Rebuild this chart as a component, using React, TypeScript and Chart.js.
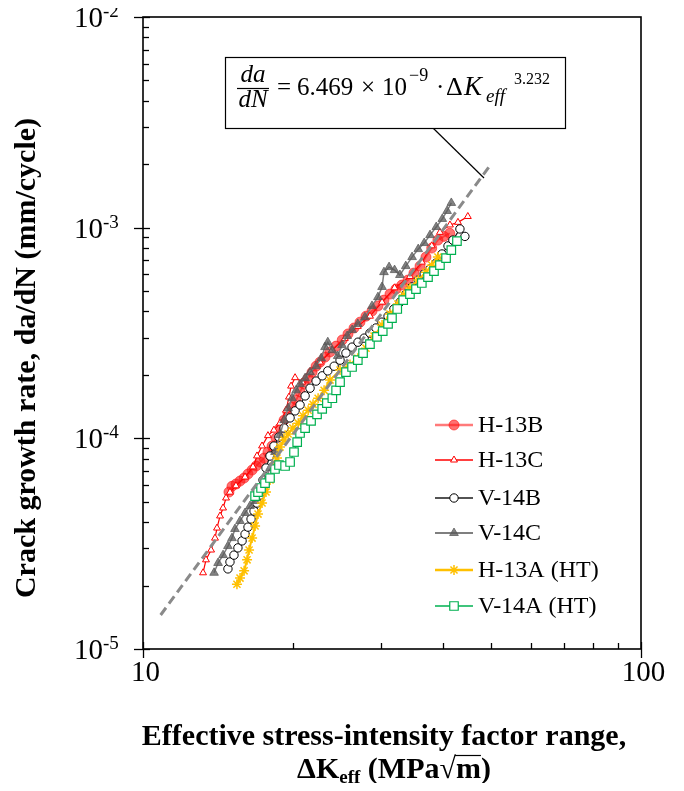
import React, { useEffect, useRef } from "react";
import { Chart, registerables } from "chart.js";
Chart.register(...registerables);

// ---------- data (ΔKeff in MPa√m, da/dN in mm/cycle) ----------
const h13bK = [14.88,15.09,15.37,15.66,15.96,16.25,16.56,16.87,17.18,17.5,17.82,18.16,18.5,18.84,19.2,19.56,19.92,20.3,20.67,21.06,21.46,21.85,22.26,22.67,23.2,23.74,24.42,25.12,25.8,26.53,27.27,28.04,28.83,29.63,30.47,31.33,32.2,33.1,34.05,35.0,36.0,37.0,38.0,39.1,40.2,41.3];
const h13bRate = [5.56e-5,5.92e-5,6.07e-5,6.27e-5,6.48e-5,6.77e-5,7.07e-5,7.39e-5,7.72e-5,8.06e-5,8.61e-5,9.19e-5,1.003e-4,1.119e-4,1.22e-4,1.318e-4,1.408e-4,1.52e-4,1.66e-4,1.81e-4,1.93e-4,2.06e-4,2.2e-4,2.3e-4,2.43e-4,2.57e-4,2.74e-4,2.93e-4,3.13e-4,3.34e-4,3.56e-4,3.8e-4,4.02e-4,4.25e-4,4.53e-4,4.84e-4,5.11e-4,5.34e-4,5.64e-4,6.09e-4,6.57e-4,7.25e-4,8.0e-4,8.73e-4,9.09e-4,9.4e-4];

const h13cK = [13.2,13.38,13.7,13.95,14.08,14.28,14.48,14.68,14.95,15.37,16.03,16.63,16.94,17.34,17.82,18.32,18.84,19.37,19.64,19.83,20.2,20.87,21.65,22.67,23.96,25.43,27.0,28.56,30.2,32.0,34.36,36.3,38.0,39.47,41.34,42.9,44.9];
const h13cRate = [2.3e-5,2.65e-5,2.95e-5,3.36e-5,3.75e-5,4.28e-5,4.67e-5,5.21e-5,5.55e-5,5.95e-5,6.55e-5,7.32e-5,8.25e-5,9.2e-5,1.03e-4,1.094e-4,1.18e-4,1.36e-4,1.57e-4,1.77e-4,1.94e-4,1.85e-4,2.06e-4,2.3e-4,2.62e-4,2.98e-4,3.4e-4,3.8e-4,4.43e-4,5.18e-4,5.86e-4,6.86e-4,8.2e-4,9.5e-4,1.03e-3,1.06e-3,1.13e-3];

const v14bK = [14.81,14.95,15.23,15.51,15.81,16.03,16.25,16.48,16.71,16.94,17.18,17.42,17.66,17.99,18.32,18.75,19.2,19.74,20.2,20.67,21.16,21.65,22.26,22.9,23.5,24.2,24.87,25.56,26.29,27.02,27.8,28.56,29.36,30.18,31.05,31.9,32.81,33.74,34.7,35.7,36.7,37.69,38.76,39.85,40.97,41.9,43.29,44.3];
const v14bRate = [2.4e-5,2.59e-5,2.79e-5,3.02e-5,3.26e-5,3.51e-5,3.79e-5,4.14e-5,4.52e-5,4.93e-5,5.38e-5,6.34e-5,7.23e-5,8.24e-5,9.19e-5,1.014e-4,1.119e-4,1.25e-4,1.35e-4,1.44e-4,1.59e-4,1.73e-4,1.87e-4,1.98e-4,2.09e-4,2.2e-4,2.35e-4,2.54e-4,2.71e-4,2.86e-4,2.99e-4,3.16e-4,3.34e-4,3.56e-4,3.8e-4,4.11e-4,4.43e-4,4.84e-4,5.23e-4,5.64e-4,6.03e-4,6.36e-4,6.79e-4,7.5e-4,8.19e-4,8.73e-4,9.86e-4,9.09e-4];

const v14cK = [13.89,14.15,14.48,14.81,15.09,15.3,15.66,16.03,16.4,16.79,17.18,17.58,17.99,18.41,18.84,19.2,19.56,19.92,20.3,20.67,21.16,21.65,22.26,22.79,23.2,23.5,24.0,24.6,25.1,25.7,26.3,27.0,27.9,28.83,29.63,30.2,30.47,31.2,32.0,32.8,33.7,34.7,35.7,36.7,37.7,38.8,39.9,40.8,41.6];
const v14cRate = [2.3e-5,2.56e-5,2.79e-5,3.08e-5,3.36e-5,3.71e-5,4.05e-5,4.42e-5,4.77e-5,5.04e-5,5.5e-5,6.2e-5,7.23e-5,8.61e-5,1.037e-4,1.22e-4,1.39e-4,1.55e-4,1.69e-4,1.81e-4,1.93e-4,2.06e-4,2.2e-4,2.4e-4,2.71e-4,2.86e-4,2.62e-4,2.46e-4,2.77e-4,3.06e-4,3.27e-4,3.49e-4,3.76e-4,4.25e-4,4.68e-4,5.23e-4,6.15e-4,6.5e-4,6.29e-4,5.96e-4,6.57e-4,7.25e-4,7.91e-4,8.45e-4,9.22e-4,1.007e-3,1.1e-3,1.2e-3,1.31e-3];

const h13aK = [15.44,15.66,15.96,16.18,16.33,16.56,16.79,17.02,17.34,17.66,17.99,18.32,18.58,18.84,19.2,19.56,20.0,20.5,20.96,21.46,21.95,22.47,23.1,23.74,24.87,26.04,27.0,28.04,29.1,30.2,31.33,32.5,33.4,34.36,35.7,37.0,38.0,39.1];
const h13aRate = [2.03e-5,2.17e-5,2.35e-5,2.65e-5,2.95e-5,3.36e-5,3.84e-5,4.37e-5,4.93e-5,5.56e-5,6.34e-5,7.39e-5,8.06e-5,9.09e-5,9.82e-5,1.048e-4,1.119e-4,1.18e-4,1.28e-4,1.36e-4,1.45e-4,1.55e-4,1.69e-4,1.89e-4,2.11e-4,2.24e-4,2.4e-4,2.68e-4,3.06e-4,3.45e-4,3.89e-4,4.34e-4,4.79e-4,5.17e-4,5.64e-4,6.15e-4,6.64e-4,7.25e-4];

const v14aK = [16.79,17.02,17.26,17.58,17.99,18.41,18.75,19.29,19.74,20.1,20.4,20.67,21.16,21.75,22.36,22.9,23.4,24.0,24.42,24.87,25.56,26.29,27.0,27.66,28.56,29.5,30.3,31.05,31.62,32.4,33.3,34.36,35.33,36.3,37.35,38.4,39.47,40.6,41.6,42.7];
const v14aRate = [5.32e-5,5.56e-5,5.81e-5,6.13e-5,6.48e-5,7.15e-5,7.47e-5,7.39e-5,7.72e-5,8.61e-5,9.6e-5,1.06e-4,1.119e-4,1.21e-4,1.3e-4,1.38e-4,1.47e-4,1.55e-4,1.69e-4,1.85e-4,2.06e-4,2.18e-4,2.35e-4,2.54e-4,2.8e-4,3.03e-4,3.23e-4,3.49e-4,3.72e-4,4.11e-4,4.53e-4,4.84e-4,5.11e-4,5.46e-4,5.83e-4,6.22e-4,6.64e-4,7.17e-4,7.83e-4,8.64e-4];

// regression line endpoints: da/dN = 6.469e-9 * ΔKeff^3.232
const fitK = [10.85, 49.8];
const fitRate = [1.45e-5, 1.98e-3];

const seriesNames = ["H-13B", "H-13C", "V-14B", "V-14C", "H-13A (HT)", "V-14A (HT)"];
const xTickValues = [10, 100];
const yTickExponents = [-5, -4, -3, -2];

const SERIF = '"Liberation Serif", "Times New Roman", serif';

type Sty = { point: string; r: number; fill: string; stroke: string; lw: number; line: string; lineW: number };
const styles: Sty[] = [
  { point: "circle", r: 5, fill: "rgba(255,20,20,0.6)", stroke: "rgba(255,20,20,0.6)", lw: 1, line: "rgba(255,50,50,0.65)", lineW: 1.8 },
  { point: "triangle", r: 4, fill: "#ffffff", stroke: "#ff0000", lw: 1, line: "#ff0000", lineW: 1.2 },
  { point: "circle", r: 4.2, fill: "#ffffff", stroke: "#000000", lw: 1, line: "#1a1a1a", lineW: 1.2 },
  { point: "triangle", r: 5, fill: "rgba(90,90,90,0.75)", stroke: "rgba(90,90,90,0.75)", lw: 1, line: "#7f7f7f", lineW: 1.5 },
  { point: "star", r: 5, fill: "#ffc000", stroke: "#ffc000", lw: 1.5, line: "#ffc000", lineW: 2 },
  { point: "rect", r: 6, fill: "#ffffff", stroke: "#00b050", lw: 1.2, line: "#00b050", lineW: 1.2 },
];

function drawMarker(ctx: CanvasRenderingContext2D, s: Sty, x: number, y: number) {
  ctx.save();
  ctx.beginPath();
  ctx.lineWidth = s.lw;
  ctx.fillStyle = s.fill;
  ctx.strokeStyle = s.stroke;
  const r = s.r;
  if (s.point === "circle") ctx.arc(x, y, r, 0, Math.PI * 2);
  else if (s.point === "triangle") {
    ctx.moveTo(x, y - r);
    ctx.lineTo(x + r * 0.866, y + r * 0.5);
    ctx.lineTo(x - r * 0.866, y + r * 0.5);
    ctx.closePath();
  } else if (s.point === "rect") {
    const h = r * Math.SQRT1_2;
    ctx.rect(x - h, y - h, 2 * h, 2 * h);
  } else if (s.point === "star") {
    for (let i = 0; i < 4; i++) {
      const a = (i * Math.PI) / 4;
      ctx.moveTo(x + Math.cos(a) * r, y + Math.sin(a) * r);
      ctx.lineTo(x - Math.cos(a) * r, y - Math.sin(a) * r);
    }
  }
  if (s.point !== "star") ctx.fill();
  ctx.stroke();
  ctx.restore();
}

const overlayPlugin = {
  id: "overlay",
  afterDraw(chart: any) {
    const ctx: CanvasRenderingContext2D = chart.ctx;
    const { left, right, top, bottom } = chart.chartArea;
    const xs = chart.scales.x;
    const ys = chart.scales.y;
    ctx.save();
    ctx.strokeStyle = "#000";
    ctx.fillStyle = "#000";

    // y ticks
    ctx.lineWidth = 1.3;
    for (const e of yTickExponents) {
      const y = Math.round(ys.getPixelForValue(Math.pow(10, e))) + 0.5;
      ctx.beginPath();
      ctx.moveTo(left - 9, y);
      ctx.lineTo(left + 7, y);
      ctx.stroke();
      if (e < yTickExponents[yTickExponents.length - 1]) {
        for (let m = 2; m <= 9; m++) {
          const yy = Math.round(ys.getPixelForValue(m * Math.pow(10, e))) + 0.5;
          ctx.beginPath();
          ctx.moveTo(left, yy);
          ctx.lineTo(left + 6, yy);
          ctx.stroke();
        }
      }
      // labels 10^e
      ctx.font = `29px ${SERIF}`;
      ctx.textAlign = "right";
      ctx.textBaseline = "middle";
      ctx.fillText("10", left - 40, y + 2);
      ctx.font = `19px ${SERIF}`;
      ctx.textAlign = "left";
      ctx.textBaseline = "alphabetic";
      ctx.fillText(String(e), left - 40, y - 1);
    }
    // x ticks
    for (let i = 0; i < xTickValues.length; i++) {
      const v = xTickValues[i];
      const x = Math.round(xs.getPixelForValue(v)) + 0.5;
      ctx.beginPath();
      ctx.moveTo(x, bottom + 9);
      ctx.lineTo(x, bottom - 7);
      ctx.stroke();
      if (i < xTickValues.length - 1) {
        for (let m = 2; m <= 9; m++) {
          const xx = Math.round(xs.getPixelForValue(m * v)) + 0.5;
          ctx.beginPath();
          ctx.moveTo(xx, bottom);
          ctx.lineTo(xx, bottom - 6);
          ctx.stroke();
        }
      }
      ctx.font = `29px ${SERIF}`;
      ctx.textAlign = "center";
      ctx.textBaseline = "middle";
      ctx.fillText(String(v), x + 2, bottom + 24);
    }

    // frame
    ctx.lineWidth = 1.6;
    ctx.strokeRect(left, top, right - left, bottom - top);

    // y title
    ctx.save();
    ctx.translate(19, 350);
    ctx.rotate(-Math.PI / 2);
    ctx.font = `bold 30px ${SERIF}`;
    ctx.textAlign = "center";
    ctx.textBaseline = "middle";
    ctx.fillText("Crack growth rate, da/dN (mm/cycle)", 0, 0);
    ctx.restore();

    // x title
    ctx.font = `bold 30px ${SERIF}`;
    ctx.textAlign = "center";
    ctx.textBaseline = "middle";
    ctx.fillText("Effective stress-intensity factor range,", 376, 729);
    {
      const p1 = "ΔK";
      const p2 = "eff";
      const p3a = " (MPa√";
      const p3b = "m)";
      ctx.font = `bold 30px ${SERIF}`;
      const w1 = ctx.measureText(p1).width;
      const w3a = ctx.measureText(p3a).width;
      const wm = ctx.measureText("m").width;
      const w3b = ctx.measureText(p3b).width;
      ctx.font = `bold 19px ${SERIF}`;
      const w2 = ctx.measureText(p2).width;
      const total = w1 + w2 + w3a + w3b;
      let x0 = 386 - total / 2;
      const base = 770;
      ctx.textAlign = "left";
      ctx.textBaseline = "alphabetic";
      ctx.font = `bold 30px ${SERIF}`;
      ctx.fillText(p1, x0, base);
      x0 += w1;
      ctx.font = `bold 19px ${SERIF}`;
      ctx.fillText(p2, x0, base + 5);
      x0 += w2;
      ctx.font = `bold 30px ${SERIF}`;
      ctx.fillText(p3a, x0, base);
      x0 += w3a;
      ctx.fillText(p3b, x0, base);
      ctx.lineWidth = 1.2;
      ctx.beginPath();
      ctx.moveTo(x0 - 1, base - 22.5);
      ctx.lineTo(x0 + wm, base - 22.5);
      ctx.stroke();
    }

    // equation box and leader
    ctx.lineWidth = 1.2;
    ctx.beginPath();
    ctx.moveTo(425, 120);
    ctx.lineTo(476, 170);
    ctx.stroke();
    ctx.fillStyle = "#fff";
    ctx.fillRect(217, 49, 340, 71);
    ctx.strokeRect(217.5, 49.5, 340, 71);
    ctx.fillStyle = "#000";
    ctx.textAlign = "center";
    ctx.textBaseline = "alphabetic";
    ctx.font = `italic 25px ${SERIF}`;
    ctx.fillText("da", 245, 74);
    ctx.fillText("dN", 245, 99);
    ctx.beginPath();
    ctx.lineWidth = 1.2;
    ctx.moveTo(229, 80.5);
    ctx.lineTo(261, 80.5);
    ctx.stroke();
    ctx.textAlign = "left";
    ctx.font = `25px ${SERIF}`;
    ctx.fillText("=", 269, 87);
    ctx.fillText("6.469", 289, 87);
    ctx.fillText("×", 353, 87);
    ctx.fillText("10", 374, 87);
    ctx.font = `18px ${SERIF}`;
    ctx.fillText("−9", 401, 73);
    ctx.font = `25px ${SERIF}`;
    ctx.fillText("·", 428, 87);
    ctx.font = `26px ${SERIF}`;
    ctx.fillText("Δ", 438, 87);
    ctx.font = `italic 27px ${SERIF}`;
    ctx.fillText("K", 456, 87);
    ctx.font = `italic 19px ${SERIF}`;
    ctx.fillText("eff", 478, 94);
    ctx.font = `16px ${SERIF}`;
    ctx.fillText("3.232", 506, 76);

    // legend
    const lx0 = 427, lx1 = 465, tx = 470;
    const rows = [417, 452, 490, 525, 562, 598];
    for (let i = 0; i < seriesNames.length; i++) {
      const s = styles[i];
      const y = rows[i];
      ctx.beginPath();
      ctx.strokeStyle = s.line;
      ctx.lineWidth = s.lineW + 0.5;
      ctx.moveTo(lx0, y);
      ctx.lineTo(lx1, y);
      ctx.stroke();
      drawMarker(ctx, s, (lx0 + lx1) / 2, y);
      ctx.fillStyle = "#000";
      ctx.font = `24px ${SERIF}`;
      ctx.textAlign = "left";
      ctx.textBaseline = "middle";
      ctx.fillText(seriesNames[i], tx, y + 1);
    }
    ctx.restore();
  },
};

function mk(i: number, K: number[], R: number[]) {
  const s = styles[i];
  return {
    label: seriesNames[i],
    data: K.map((k, j) => ({ x: k, y: R[j] })),
    showLine: true,
    borderColor: s.line,
    borderWidth: s.lineW,
    pointStyle: s.point,
    pointRadius: s.r,
    pointBackgroundColor: s.fill,
    pointBorderColor: s.stroke,
    pointBorderWidth: s.lw,
    order: 6 - i,
  };
}

export default function App() {
  const ref = useRef<HTMLCanvasElement>(null);
  useEffect(() => {
    if (!ref.current) return;
    const chart = new Chart(ref.current, {
      type: "scatter",
      data: {
        datasets: [
          mk(0, h13bK, h13bRate),
          mk(1, h13cK, h13cRate),
          mk(2, v14bK, v14bRate),
          mk(3, v14cK, v14cRate),
          mk(4, h13aK, h13aRate),
          mk(5, v14aK, v14aRate),
          {
            label: "fit",
            data: fitK.map((k, j) => ({ x: k, y: fitRate[j] })),
            showLine: true,
            borderColor: "#8a8a8a",
            borderWidth: 3,
            borderDash: [9, 5],
            pointRadius: 0,
            order: 0,
          },
        ] as any,
      },
      options: {
        animation: false,
        responsive: false,
        layout: { padding: { left: 135, top: 9, right: 35, bottom: 142 } },
        plugins: { legend: { display: false }, tooltip: { enabled: false } },
        scales: {
          x: { type: "logarithmic", min: 10, max: 100, display: false },
          y: { type: "logarithmic", min: 1e-5, max: 1e-2, display: false },
        },
      },
      plugins: [overlayPlugin],
    });
    return () => chart.destroy();
  }, []);
  return (
    <div style={{ width: 668, height: 783, marginBottom: -8, overflow: "hidden" }}>
      <canvas ref={ref} width={668} height={783} style={{ display: "block" }} />
    </div>
  );
}
